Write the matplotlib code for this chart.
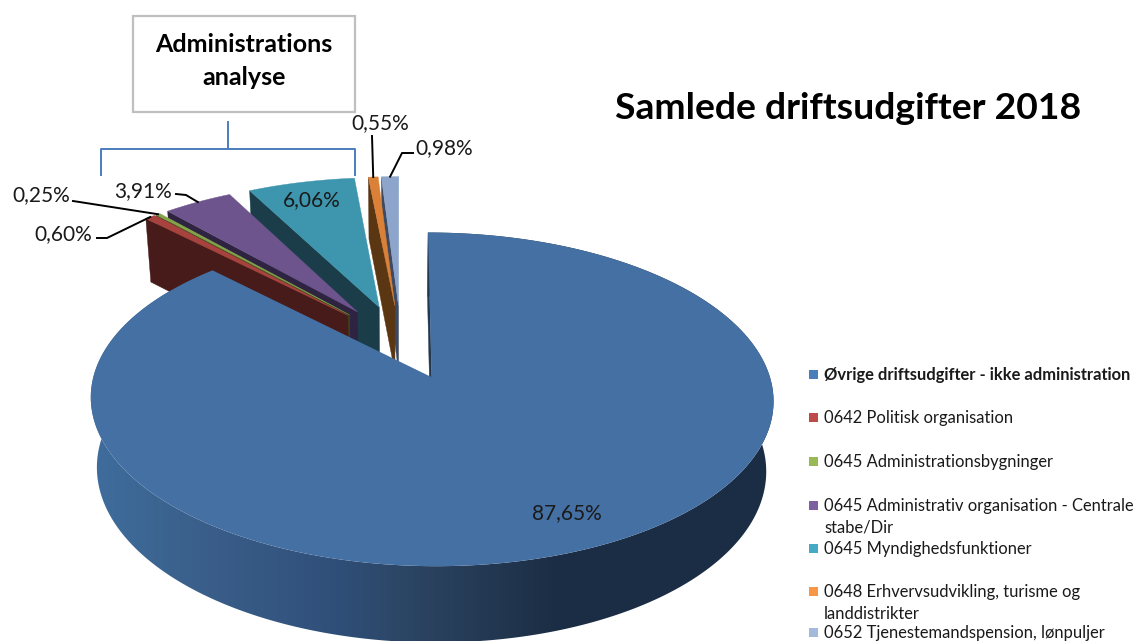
import numpy as np
import matplotlib
matplotlib.use('Agg')
import matplotlib.pyplot as plt
from matplotlib.colors import LinearSegmentedColormap

plt.rcParams['font.family'] = ['Lato', 'DejaVu Sans']

# chart data
categories = ['Øvrige driftsudgifter - ikke administration',
              '0642 Politisk organisation',
              '0645 Administrationsbygninger',
              '0645 Administrativ organisation - Centrale\nstabe/Dir',
              '0645 Myndighedsfunktioner',
              '0648 Erhvervsudvikling, turisme og\nlanddistrikter',
              '0652 Tjenestemandspension, lønpuljer']
values = [87.65, 0.60, 0.25, 3.91, 6.06, 0.55, 0.98]
value_labels = ['87,65%', '0,60%', '0,25%', '3,91%', '6,06%', '0,55%', '0,98%']

# styling
top_colors = ['#4570a4', '#a8423f', '#86a44a', '#6e548d', '#3d96ae', '#da8137', '#8ea5cb']
wall_colors = ['#22384f', '#461b19', '#3a4a1c', '#2e2340', '#1a3d49', '#5b3613', '#3d4a62']
legend_colors = ['#4a7ebb', '#be4b48', '#98b954', '#7d60a0', '#46aac5', '#f79646', '#a5b9dc']
legend_y = [374, 417, 461, 505, 548, 591, 632]
label_pos = [(567, 513), (63, 234), (41, 195), (143, 191), (312, 200), (380, 123), (444, 148)]
leader_elbows = [None, [(97, 238), (107, 238)], [(73, 201)], [(176, 194), (186, 195)], None,
                 [(372, 136)], [(413, 153), (402, 153)]]

# projection of the tilted pie onto the page
cx, cy = 400.9, 341.8
R, H, k = 328.6, 154.6, 0.1292
depth = 68
explode = 0.24


def project(u, v, low=False):
    w = 1 + k * v
    if low:
        return cx + R * u / (w * 1.02), cy - H * v / (w * 1.02) + depth / w
    return cx + R * u / w, cy - H * v / w


def slice_xy(a, mid, r=1.0, low=False):
    u = explode * np.sin(mid) + r * np.sin(a)
    v = explode * np.cos(mid) + r * np.cos(a)
    return project(u, v, low)


fig = plt.figure(figsize=(11.36, 6.41), dpi=100)
ax = fig.add_axes([0, 0, 1, 1])
ax.axis('off')

edges = np.cumsum([0] + values) / sum(values) * 2 * np.pi
mids = (edges[:-1] + edges[1:]) / 2

# small slices, back to front, then the big one on top
for i in [6, 5, 4, 3, 2, 1]:
    a0, a1, mid = edges[i], edges[i + 1], mids[i]
    ax0, ay0 = slice_xy(a0, mid, 0)
    ox, oy = slice_xy(a0, mid)
    bx, by = slice_xy(a0, mid, 1, True)
    lx, ly = slice_xy(a0, mid, 0, True)
    ax.fill([ax0, ox, bx, lx], [ay0, oy, by, ly], color=wall_colors[i], lw=0.3)
    arc = np.linspace(a0, a1, 30)
    xs, ys = slice_xy(arc, mid)
    ax.fill(np.r_[ax0, xs], np.r_[ay0, ys], color=top_colors[i], lw=0.3)

# big slice: wall at its first edge, rim with shading, top face
a0, a1, mid = edges[0], edges[1], mids[0]
ox, oy = slice_xy(a0, mid)
ax0, ay0 = slice_xy(a0, mid, 0)
bx, by = slice_xy(a0, mid, 1, True)
lx, ly = slice_xy(a0, mid, 0, True)
ax.fill([ax0, ox, bx, lx], [ay0, oy, by, ly], color=wall_colors[0], lw=0.3)

arc = np.linspace(a0, a1, 500)
tx, ty = slice_xy(arc, mid)
bx, by = slice_xy(arc, mid, 1, True)
rim = ax.fill(np.r_[tx, bx[::-1]], np.r_[ty, by[::-1]], lw=0)[0]
rim.set_visible(False)
rim_cmap = LinearSegmentedColormap.from_list('rim', [(0, '#3f6d9d'), (0.235, '#3a5f8a'), (0.51, '#30507a'),
                                                     (0.72, '#2a425f'), (1, '#1b2d44')])
img = ax.imshow(np.linspace(0, 1, 256)[None, :], extent=(90, 560, 641, 0), cmap=rim_cmap, aspect='auto')
img.set_clip_path(rim)
# right of the gradient the rim stays flat dark
dark = ax.imshow([[1.0]], extent=(560, 780, 641, 0), cmap=rim_cmap, vmin=0, vmax=1, aspect='auto')
dark.set_clip_path(rim)
ax.fill(np.r_[ax0, tx], np.r_[ay0, ty], color=top_colors[0], lw=0)

# data labels and leader lines
for i, lab in enumerate(value_labels):
    ax.text(label_pos[i][0], label_pos[i][1], lab, ha='center', va='center', fontsize=15, color='#1a1a1a')
    if leader_elbows[i]:
        ex, ey = slice_xy(mids[i], mids[i])
        pts = leader_elbows[i] + [(float(ex), float(ey))]
        ax.plot([p[0] for p in pts], [p[1] for p in pts], color='black', lw=1.4)

# title, box and bracket
ax.text(848, 108.5, 'Samlede driftsudgifter 2018', ha='center', va='center', fontsize=26.9, fontweight='bold', color='black')
ax.add_patch(plt.Rectangle((133, 16), 222, 96, fill=False, edgecolor='#bfbfbf', lw=1.6))
ax.text(244, 61, 'Administrations\nanalyse', ha='center', va='center', fontsize=18, fontweight='bold',
        color='black', linespacing=1.5)
ax.plot([101, 101, 355, 355], [175, 149, 149, 175], color='#4a7ebb', lw=1.4)
ax.plot([228, 228], [149, 122], color='#4a7ebb', lw=1.4)

# legend
for i, cat in enumerate(categories):
    y = legend_y[i]
    ax.add_patch(plt.Rectangle((809, y - 4.5), 9, 9, color=legend_colors[i], lw=0))
    ax.text(824, y - 7, cat, ha='left', va='top', fontsize=11.9, color='#1a1a1a',
            fontweight='bold' if i == 0 else 'normal', linespacing=1.45)

ax.set_xlim(0, 1136)
ax.set_ylim(641, 0)
fig.savefig('out.png', dpi=100)
